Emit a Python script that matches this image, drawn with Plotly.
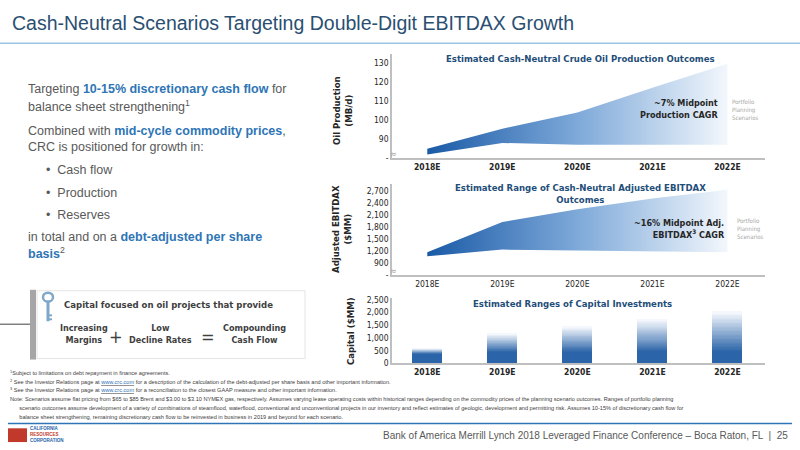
import plotly.graph_objects as go

years = ["2018E", "2019E", "2020E", "2021E", "2022E"]
oil_low = [82, 88, 87, 87, 87]
oil_high = [85, 95.5, 104, 117, 129.5]
ebitdax_low = [1070, 1240, 1220, 1200, 1170]
ebitdax_high = [1170, 1930, 2250, 2520, 2740]
capex_low = [400, 460, 460, 460, 460]
capex_high = [615, 1190, 1460, 1730, 2040]
oil_ticks = [80, 90, 100, 110, 120, 130]
oil_ticktext = ["-", "90", "100", "110", "120", "130"]
eb_ticks = [600, 900, 1200, 1500, 1800, 2100, 2400, 2700]
eb_ticktext = ["-", "900", "1,200", "1,500", "1,800", "2,100", "2,400", "2,700"]
cap_ticks = [0, 500, 1000, 1500, 2000, 2500]

W, H = 800, 450
def px(x): return x / W
def py(y): return 1 - y / H

NARROW = "DejaVu Sans Condensed, Liberation Sans Narrow, Liberation Sans"
F = "Liberation Sans, Arial"
TITLE_C = "#1f4e79"
grad = [[0, "#1a5aa6"], [0.5, "#7ea9d9"], [1, "#f2f7fc"]]

fig = go.Figure()

fig.add_trace(go.Scatter(x=years, y=oil_low, mode="lines", line=dict(width=0), xaxis="x", yaxis="y", showlegend=False, hoverinfo="skip"))
fig.add_trace(go.Scatter(x=years, y=oil_high, mode="lines", line=dict(width=0), fill="tonexty",
                         fillgradient=dict(type="horizontal", colorscale=grad), xaxis="x", yaxis="y", showlegend=False))
fig.add_trace(go.Scatter(x=years, y=ebitdax_low, mode="lines", line=dict(width=0), xaxis="x2", yaxis="y2", showlegend=False, hoverinfo="skip"))
fig.add_trace(go.Scatter(x=years, y=ebitdax_high, mode="lines", line=dict(width=0), fill="tonexty",
                         fillgradient=dict(type="horizontal", colorscale=grad), xaxis="x2", yaxis="y2", showlegend=False))
fig.add_trace(go.Bar(x=years, y=capex_low, marker=dict(color="#2b64a8", line=dict(width=0)), width=0.4,
                     xaxis="x3", yaxis="y3", showlegend=False))
NSEG = 30
for i in range(NSEG):
    t = i / (NSEG - 1)
    r = int(0x2b + (0xf4 - 0x2b) * t); g = int(0x64 + (0xf8 - 0x64) * t); b = int(0xa8 + (0xfd - 0xa8) * t)
    seg = [(h - l) / NSEG for l, h in zip(capex_low, capex_high)]
    fig.add_trace(go.Bar(x=years, y=seg, marker=dict(color=f"rgb({r},{g},{b})", line=dict(width=0)), width=0.4,
                         xaxis="x3", yaxis="y3", showlegend=False, hoverinfo="skip"))

xdom = [px(392), px(765)]
xr = [-0.47, 4.5]
axcommon = dict(showgrid=False, zeroline=False, showline=True, linecolor="#bfbfbf", linewidth=1.5)
tf = dict(size=8.5, color="#262626", family=NARROW)
fig.update_layout(
    width=W, height=H, margin=dict(l=0, r=0, t=0, b=0), paper_bgcolor="white", plot_bgcolor="white",
    barmode="stack", font=dict(family=NARROW, color="#262626"),
    xaxis=dict(domain=xdom, anchor="y", range=xr, tickfont=tf, ticks="", **axcommon),
    yaxis=dict(domain=[py(158), py(52)], range=[80, 134.6], tickvals=oil_ticks, ticktext=oil_ticktext,
               tickfont=tf, ticks="", **axcommon),
    xaxis2=dict(domain=xdom, anchor="y2", range=xr, tickfont=tf, ticks="", **axcommon),
    yaxis2=dict(domain=[py(277), py(184)], range=[600, 2893], tickvals=eb_ticks, ticktext=eb_ticktext,
                tickfont=tf, ticks="", **axcommon),
    xaxis3=dict(domain=xdom, anchor="y3", range=xr, tickfont=tf, ticks="", **axcommon),
    yaxis3=dict(domain=[py(367), py(300)], range=[0, 2577], tickvals=cap_ticks, tickformat=",",
                tickfont=tf, ticks="", **axcommon),
)
fig.update_xaxes(ticktext=[f"<b>{y}</b>" for y in years], tickvals=years, selector=dict(anchor="y"))
fig.update_xaxes(ticktext=[f"<b>{y}</b>" for y in years], tickvals=years, selector=dict(anchor="y3"))

ann = []
def A(x, y, text, size=10, color="#262626", xanchor="left", family=NARROW, angle=0, align="left"):
    ann.append(dict(x=px(x), y=py(y), xref="paper", yref="paper", text=text, showarrow=False, xanchor=xanchor,
                    yanchor="middle", font=dict(size=size, color=color, family=family), textangle=angle, align=align))

A(10, 20, "Cash-Neutral Scenarios Targeting Double-Digit EBITDAX Growth", 19.5, "#2a4f72", family=F)
A(580, 56, "<b>Estimated Cash-Neutral Crude Oil Production Outcomes</b>", 9.5, TITLE_C, "center")
A(580, 194, "<b>Estimated Range of Cash-Neutral Adjusted EBITDAX<br>Outcomes</b>", 9.5, TITLE_C, "center", align="center")
A(572, 306, "<b>Estimated Ranges of Capital Investments</b>", 9.5, TITLE_C, "center")
A(342, 110, "<b>Oil Production<br>(MB/d)</b>", 9.5, "#262626", "center", angle=-90, align="center")
A(342, 230, "<b>Adjusted EBITDAX<br>($MM)</b>", 9.5, "#262626", "center", angle=-90, align="center")
A(350, 334, "<b>Capital ($MM)</b>", 9.5, "#262626", "center", angle=-90, align="center")
A(720, 108, "<b>~7% Midpoint<br>Production CAGR</b>", 9, "#262626", "right", align="right")
A(730, 108, "Portfolio<br>Planning<br>Scenarios", 6, "#a6a6a6")
A(727, 230, "<b>~16% Midpoint Adj.<br>EBITDAX<sup>3</sup> CAGR</b>", 9, "#262626", "right", align="right")
A(735, 230, "Portfolio<br>Planning<br>Scenarios", 6, "#a6a6a6")
for yy in (154, 273):
    A(393, yy, "≈", 9, "#a6a6a6", "center")

BL = "#2e75b6"; GR = "#595959"
lines = [
    (88, f"Targeting <b><span style='color:{BL}'>10-15% discretionary cash flow</span></b> for", 26),
    (105, "balance sheet strengthening<sup>1</sup>", 26),
    (130, f"Combined with <b><span style='color:{BL}'>mid-cycle commodity prices</span></b>,", 26),
    (147, "CRC is positioned for growth in:", 26),
    (170, "•  Cash flow", 44),
    (193, "•  Production", 44),
    (216, "•  Reserves", 44),
    (238, f"in total and on a <b><span style='color:{BL}'>debt-adjusted per share</span></b>", 26),
    (255, f"<b><span style='color:{BL}'>basis</span></b><sup>2</sup>", 26),
]
for y, t, x in lines:
    A(x, y, t, 12.5, GR, family=F)

A(168, 307, "<b>Capital focused on oil projects that provide</b>", 9.5, "#404040", "center")
A(84, 337, "<b>Increasing<br>Margins</b>", 9, "#404040", "center", align="center")
A(116, 340, "+", 18, "#404040", "center")
A(160, 337, "<b>Low<br>Decline Rates</b>", 9, "#404040", "center", align="center")
A(208, 340, "=", 18, "#404040", "center")
A(254, 337, "<b>Compounding<br>Cash Flow</b>", 9, "#404040", "center", align="center")

fn = [
    (376, "<sup>1</sup>Subject to limitations on debt repayment in finance agreements."),
    (385, "<sup>2</sup> See the Investor Relations page at <u><span style='color:#2e75b6'>www.crc.com</span></u> for a description of the calculation of the debt-adjusted per share basis and other important information."),
    (394, "<sup>3</sup> See the Investor Relations page at <u><span style='color:#2e75b6'>www.crc.com</span></u> for a reconciliation to the closest GAAP measure and other important information."),
    (403, "Note: Scenarios assume flat pricing from $65 to $85 Brent and $3.00 to $3.10 NYMEX gas, respectively. Assumes varying lease operating costs within historical ranges depending on the commodity prices of the planning scenario outcomes. Ranges of portfolio planning"),
    (412, "      scenario outcomes assume development of a variety of combinations of steamflood, waterflood, conventional and unconventional projects in our inventory and reflect estimates of geologic, development and permitting risk. Assumes 10-15% of discretionary cash flow for"),
    (421, "      balance sheet strengthening, remaining discretionary cash flow to be reinvested in business in 2019 and beyond for each scenario."),
]
for y, t in fn:
    A(8, y, t, 5.6, "#404040", family=F)

A(790, 440, "Bank of America Merrill Lynch 2018 Leveraged Finance Conference – Boca Raton, FL  |  25", 10, "#595959", "right", family=F)
A(28, 439, "<b>CALIFORNIA<br><span style='color:#c0392b'>RESOURCES</span><br>CORPORATION</b>", 4.5, "#1f5fa8", family=F)

fig.update_layout(annotations=ann)

shapes = [
    dict(type="line", xref="paper", yref="paper", x0=0, x1=1, y0=py(41), y1=py(41), line=dict(color="#9dc3e6", width=1.5)),
    dict(type="line", xref="paper", yref="paper", x0=px(8), x1=px(792), y0=py(428), y1=py(428), line=dict(color="#2e75b6", width=1.5)),
    dict(type="rect", xref="paper", yref="paper", x0=px(37), x1=px(305), y0=py(362), y1=py(293), fillcolor="white",
         line=dict(color="#e4e4e4", width=1), layer="below"),
    dict(type="rect", xref="paper", yref="paper", x0=px(30), x1=px(36), y0=py(363), y1=py(292), fillcolor="#a6a6a6", line=dict(width=0)),
    dict(type="line", xref="paper", yref="paper", x0=0, x1=px(30), y0=py(327), y1=py(327), line=dict(color="#404040", width=1)),
    dict(type="circle", xref="paper", yref="paper", x0=px(43), x1=px(53), y0=py(304), y1=py(295), line=dict(color="#7fa7c9", width=2.5)),
    dict(type="line", xref="paper", yref="paper", x0=px(48), x1=px(48), y0=py(304), y1=py(324), line=dict(color="#7fa7c9", width=3)),
    dict(type="line", xref="paper", yref="paper", x0=px(48), x1=px(52), y0=py(318), y1=py(318), line=dict(color="#7fa7c9", width=2)),
    dict(type="line", xref="paper", yref="paper", x0=px(48), x1=px(52), y0=py(322), y1=py(322), line=dict(color="#7fa7c9", width=2)),
    dict(type="rect", xref="paper", yref="paper", x0=px(8), x1=px(27), y0=py(447), y1=py(433), fillcolor="#c0392b", line=dict(width=0)),
]
fig.update_layout(shapes=shapes)

fig.write_html("out.html", config={"displayModeBar": False},
               post_script="document.body.style.margin='0';document.body.style.overflow='hidden';")
